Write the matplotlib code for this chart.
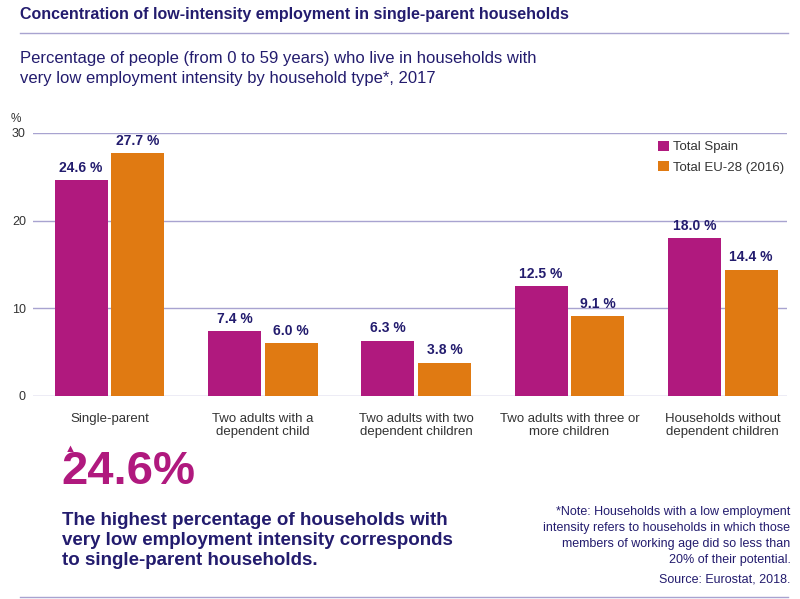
import matplotlib
matplotlib.use("Agg")
import matplotlib.pyplot as plt
import numpy as np

categories = ["Single-parent", "Two adults with a\ndependent child", "Two adults with two\ndependent children",
              "Two adults with three or\nmore children", "Households without\ndependent children"]
spain = [24.6, 7.4, 6.3, 12.5, 18.0]
eu = [27.7, 6.0, 3.8, 9.1, 14.4]
yticks = [0, 10, 20, 30]

NAVY = "#231C6E"
MAG = "#B0197E"
ORA = "#E07A12"
GRID = "#A8A3D0"
plt.rcParams['font.family'] = ['Liberation Sans', 'DejaVu Sans']

fig = plt.figure(figsize=(8, 5.99), dpi=100)
ax = fig.add_axes([0.041, 0.339, 0.943, 0.439])
x = np.arange(len(categories))
off, w = 0.185, 0.345
b1 = ax.bar(x - off, spain, w, color=MAG, label="Total Spain", zorder=3)
b2 = ax.bar(x + off, eu, w, color=ORA, label="Total EU-28 (2016)", zorder=3)
for bars, vals in ((b1, spain), (b2, eu)):
    for r, v in zip(bars, vals):
        ax.text(r.get_x() + r.get_width()/2, v + 0.6, f"{v:.1f} %", ha="center", va="bottom",
                fontsize=10, fontweight="bold", color=NAVY)
ax.set_ylim(0, 30)
ax.set_xlim(-0.5, 4.42)
ax.set_yticks(yticks)
ax.set_yticklabels([str(t) for t in yticks], fontsize=9, color="#333333")
for t in yticks:
    ax.axhline(t, color=GRID, lw=1, zorder=1)
ax.set_xticks(x)
ax.set_xticklabels(categories, fontsize=9.5, color="#333333", linespacing=1.2)
ax.tick_params(axis='x', length=0, pad=12)
ax.tick_params(axis='y', length=0, pad=5)
for s in ax.spines.values():
    s.set_visible(False)
ax.text(-0.03, 1.04, "%", transform=ax.transAxes, fontsize=8.5, color="#333333")
leg = fig.legend(handles=[b1, b2], loc="upper right", bbox_to_anchor=(0.995, 0.785), frameon=False,
                 fontsize=9.5, handlelength=0.8, handleheight=0.8, handletextpad=0.3,
                 labelspacing=0.6)
for t in leg.get_texts():
    t.set_color("#333333")
leg._legend_box.align = "right"

fig.text(0.025, 0.975, "Concentration of low-intensity employment in single-parent households",
         fontsize=11.5, fontweight="bold", color=NAVY, va="center")
fig.add_artist(plt.Line2D([0.025, 0.985], [0.945, 0.945], color=GRID, lw=1))
fig.text(0.025, 0.886, "Percentage of people (from 0 to 59 years) who live in households with\nvery low employment intensity by household type*, 2017",
         fontsize=12, color=NAVY, va="center", linespacing=1.45)
fig.text(0.077, 0.212, "24.6%", fontsize=34, fontweight="bold", color=MAG, va="center")
fig.text(0.081, 0.25, "\u25B2", fontsize=8, color=MAG, va="center")
fig.text(0.078, 0.098, "The highest percentage of households with\nvery low employment intensity corresponds\nto single-parent households.",
         fontsize=13.5, fontweight="bold", color=NAVY, va="center", linespacing=1.25)
fig.text(0.988, 0.105, "*Note: Households with a low employment\nintensity refers to households in which those\nmembers of working age did so less than\n20% of their potential.",
         fontsize=9, color=NAVY, va="center", ha="right", linespacing=1.45)
fig.text(0.988, 0.033, "Source: Eurostat, 2018.", fontsize=9, color=NAVY, va="center", ha="right")
fig.add_artist(plt.Line2D([0.025, 0.985], [0.004, 0.004], color=GRID, lw=1))
fig.savefig("out.png", dpi=100)
